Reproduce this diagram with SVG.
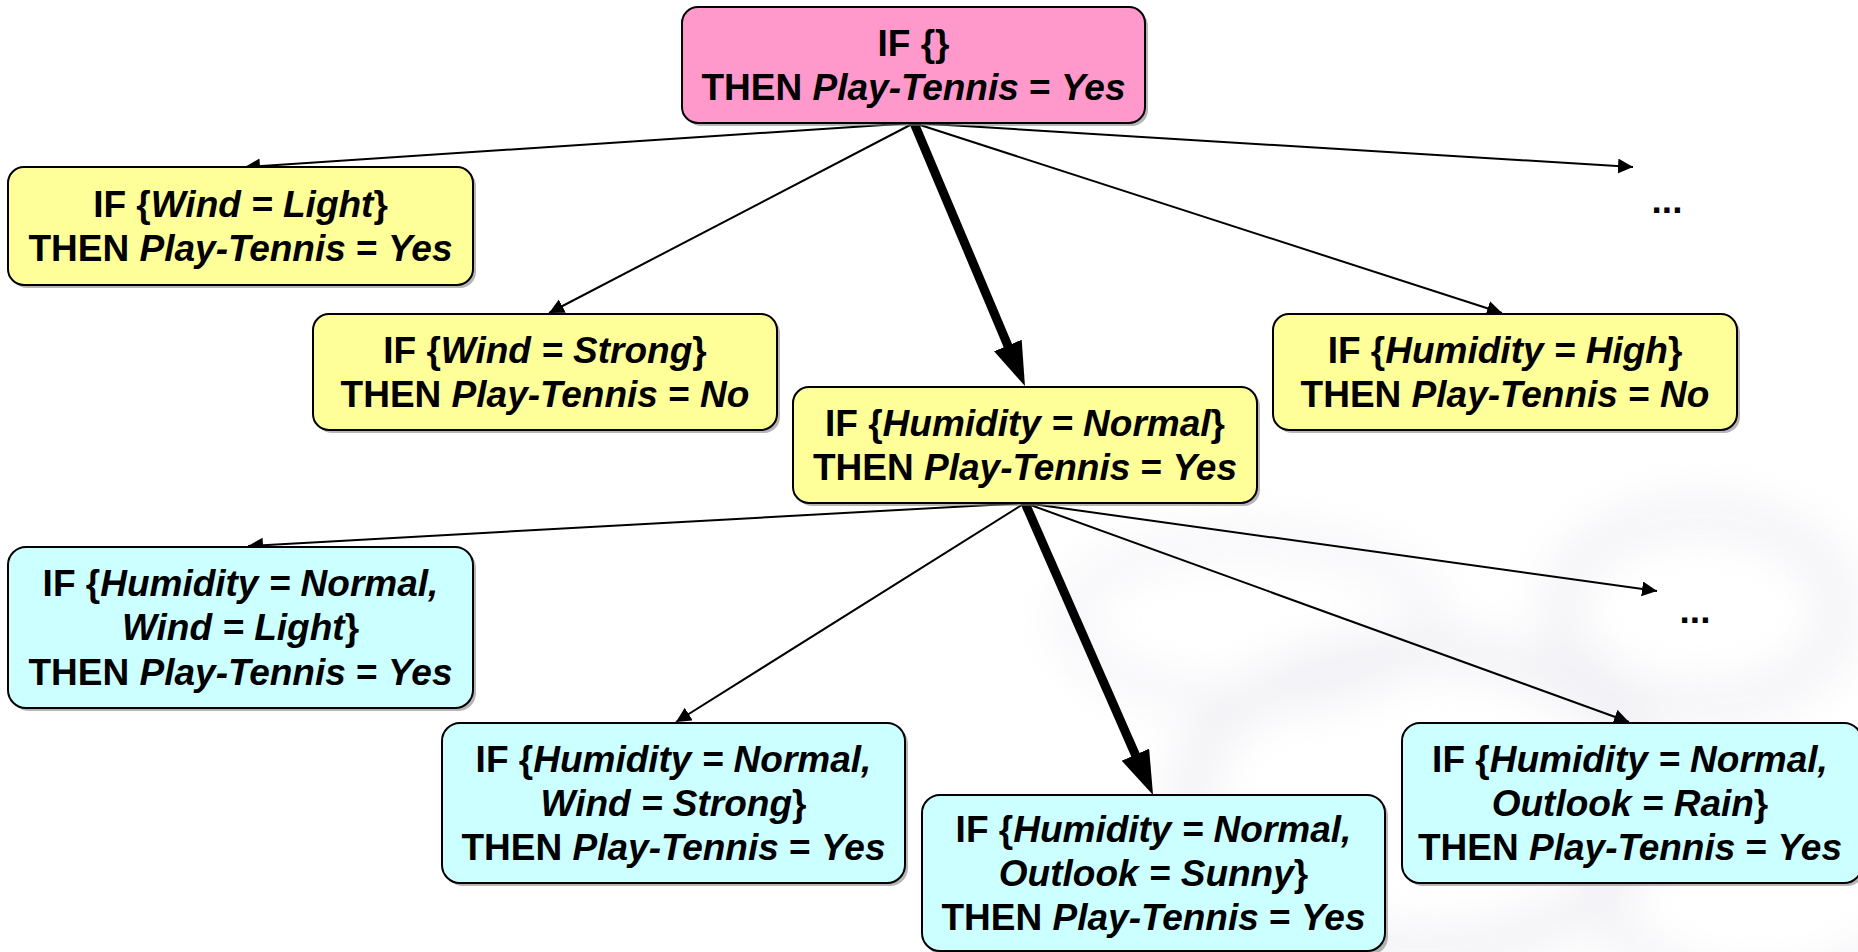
<svg xmlns="http://www.w3.org/2000/svg" width="1858" height="952" viewBox="0 0 1858 952">
<defs>
<style>
.box{stroke:#000;stroke-width:2}
.pink{fill:#FF99CC}
.yel{fill:#FFFF99}
.cyan{fill:#CCFFFF}
.sh{fill:#7a7a7a;opacity:0.55}
text{font-family:"Liberation Sans",Arial,Helvetica,sans-serif;font-weight:bold;font-size:37px;fill:#000;text-anchor:middle}
.i{font-style:italic}
.thin{stroke:#000;stroke-width:2;fill:none}
.thick{stroke:#000;stroke-width:9;fill:none}
</style>
<marker id="ah" markerUnits="userSpaceOnUse" markerWidth="16" markerHeight="16" refX="15" refY="7.5" orient="auto">
<path d="M0,0 L15,7.5 L0,15 z" fill="#000"/>
</marker>
<marker id="ahT" markerUnits="userSpaceOnUse" markerWidth="46" markerHeight="32" refX="14" refY="15" orient="auto">
<path d="M0,0 L44,15 L0,30 z" fill="#000"/>
</marker>
<filter id="blur" x="-30%" y="-30%" width="160%" height="160%"><feGaussianBlur stdDeviation="22"/></filter>
</defs>
<rect x="0" y="0" width="1858" height="952" fill="#fff"/>
<g id="watermark" filter="url(#blur)" opacity="0.35" fill="none" stroke="#D8D4E0">
<ellipse cx="1700" cy="610" rx="140" ry="95" stroke-width="34"/>
<ellipse cx="1420" cy="800" rx="230" ry="150" stroke-width="40"/>
<ellipse cx="1760" cy="880" rx="160" ry="110" stroke-width="30"/>
<ellipse cx="1250" cy="620" rx="180" ry="80" stroke-width="24"/>
</g>
<g id="connectors">
<line class="thin" x1="914" y1="123" x2="245" y2="167" marker-end="url(#ah)"/>
<line class="thin" x1="914" y1="123" x2="549" y2="313" marker-end="url(#ah)"/>
<line class="thick" x1="914" y1="123" x2="1013.3" y2="358.4" marker-end="url(#ahT)"/>
<line class="thin" x1="914" y1="123" x2="1502" y2="313" marker-end="url(#ah)"/>
<line class="thin" x1="914" y1="123" x2="1633" y2="167" marker-end="url(#ah)"/>
<line class="thin" x1="1025" y1="503" x2="248" y2="546" marker-end="url(#ah)"/>
<line class="thin" x1="1025" y1="503" x2="676" y2="722" marker-end="url(#ah)"/>
<line class="thick" x1="1025" y1="503" x2="1141" y2="767.5" marker-end="url(#ahT)"/>
<line class="thin" x1="1025" y1="503" x2="1629" y2="722" marker-end="url(#ah)"/>
<line class="thin" x1="1025" y1="503" x2="1657" y2="591" marker-end="url(#ah)"/>
</g>
<g id="root">
<rect class="sh" x="685" y="10" width="463" height="116" rx="16"/>
<rect class="box pink" x="682" y="7" width="463" height="116" rx="16"/>
<text x="913.5" y="56">IF {}</text>
<text x="913.5" y="100">THEN <tspan class="i">Play-Tennis</tspan> = <tspan class="i">Yes</tspan></text>
</g>
<g id="wind-light">
<rect class="sh" x="11" y="170" width="465" height="118" rx="16"/>
<rect class="box yel" x="8" y="167" width="465" height="118" rx="16"/>
<text x="240.5" y="217">IF {<tspan class="i">Wind = Light</tspan>}</text>
<text x="240.5" y="261">THEN <tspan class="i">Play-Tennis</tspan> = <tspan class="i">Yes</tspan></text>
</g>
<g id="wind-strong">
<rect class="sh" x="316" y="317" width="464" height="116" rx="16"/>
<rect class="box yel" x="313" y="314" width="464" height="116" rx="16"/>
<text x="545" y="363">IF {<tspan class="i">Wind = Strong</tspan>}</text>
<text x="545" y="407">THEN <tspan class="i">Play-Tennis</tspan> = <tspan class="i">No</tspan></text>
</g>
<g id="humidity-normal">
<rect class="sh" x="796" y="390" width="464" height="116" rx="16"/>
<rect class="box yel" x="793" y="387" width="464" height="116" rx="16"/>
<text x="1025" y="436">IF {<tspan class="i">Humidity = Normal</tspan>}</text>
<text x="1025" y="480">THEN <tspan class="i">Play-Tennis</tspan> = <tspan class="i">Yes</tspan></text>
</g>
<g id="humidity-high">
<rect class="sh" x="1276" y="317" width="464" height="116" rx="16"/>
<rect class="box yel" x="1273" y="314" width="464" height="116" rx="16"/>
<text x="1505" y="363">IF {<tspan class="i">Humidity = High</tspan>}</text>
<text x="1505" y="407">THEN <tspan class="i">Play-Tennis</tspan> = <tspan class="i">No</tspan></text>
</g>
<g id="more-1">
<text x="1667" y="213">...</text>
</g>
<g id="hn-wind-light">
<rect class="sh" x="11" y="550" width="465" height="161" rx="18"/>
<rect class="box cyan" x="8" y="547" width="465" height="161" rx="18"/>
<text x="240.5" y="596">IF {<tspan class="i">Humidity = Normal,</tspan></text>
<text x="240.5" y="640"><tspan class="i">Wind = Light</tspan>}</text>
<text x="240.5" y="685">THEN <tspan class="i">Play-Tennis</tspan> = <tspan class="i">Yes</tspan></text>
</g>
<g id="hn-wind-strong">
<rect class="sh" x="445" y="726" width="463" height="160" rx="18"/>
<rect class="box cyan" x="442" y="723" width="463" height="160" rx="18"/>
<text x="673.5" y="772">IF {<tspan class="i">Humidity = Normal,</tspan></text>
<text x="673.5" y="816"><tspan class="i">Wind = Strong</tspan>}</text>
<text x="673.5" y="860">THEN <tspan class="i">Play-Tennis</tspan> = <tspan class="i">Yes</tspan></text>
</g>
<g id="hn-outlook-sunny">
<rect class="sh" x="925" y="798" width="463" height="157" rx="18"/>
<rect class="box cyan" x="922" y="795" width="463" height="156" rx="18"/>
<text x="1153.5" y="842">IF {<tspan class="i">Humidity = Normal,</tspan></text>
<text x="1153.5" y="886"><tspan class="i">Outlook = Sunny</tspan>}</text>
<text x="1153.5" y="930">THEN <tspan class="i">Play-Tennis</tspan> = <tspan class="i">Yes</tspan></text>
</g>
<g id="hn-outlook-rain">
<rect class="sh" x="1405" y="726" width="460" height="160" rx="18"/>
<rect class="box cyan" x="1402" y="723" width="460" height="160" rx="18"/>
<text x="1630" y="772">IF {<tspan class="i">Humidity = Normal,</tspan></text>
<text x="1630" y="816"><tspan class="i">Outlook = Rain</tspan>}</text>
<text x="1630" y="860">THEN <tspan class="i">Play-Tennis</tspan> = <tspan class="i">Yes</tspan></text>
</g>
<g id="more-2">
<text x="1695" y="623">...</text>
</g>
</svg>
